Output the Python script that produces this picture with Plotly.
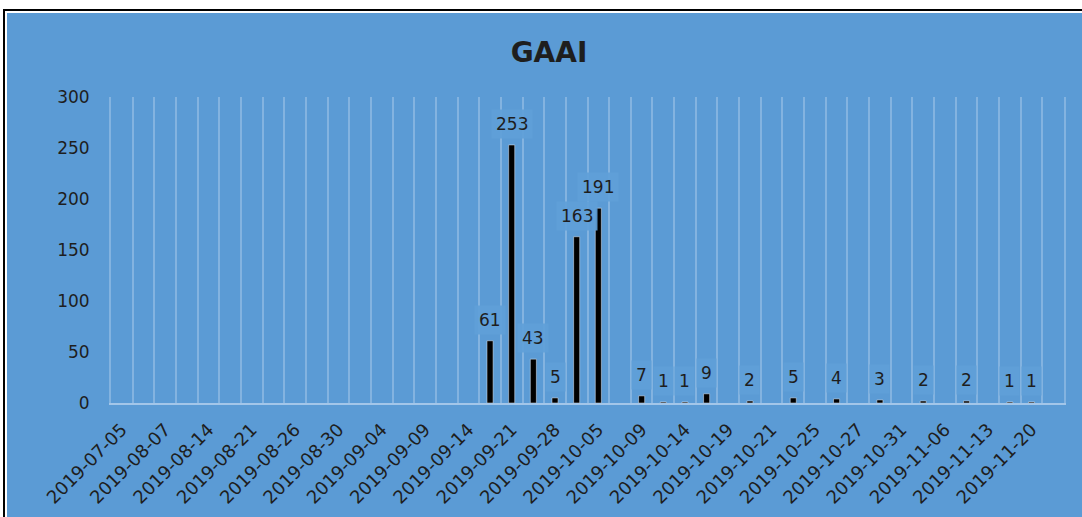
import plotly.graph_objects as go

# categories (only every other one is labelled on the axis)
dates = [
    '2019-07-05', '2019-07-24', '2019-08-07', '2019-08-10', '2019-08-14', '2019-08-17',
    '2019-08-21', '2019-08-23', '2019-08-26', '2019-08-28', '2019-08-30', '2019-09-02',
    '2019-09-04', '2019-09-06', '2019-09-09', '2019-09-12', '2019-09-14', '2019-09-18',
    '2019-09-21', '2019-09-25', '2019-09-28', '2019-10-02', '2019-10-05', '2019-10-07',
    '2019-10-09', '2019-10-11', '2019-10-14', '2019-10-16', '2019-10-19', '2019-10-20',
    '2019-10-21', '2019-10-23', '2019-10-25', '2019-10-26', '2019-10-27', '2019-10-29',
    '2019-10-31', '2019-11-03', '2019-11-06', '2019-11-10', '2019-11-13', '2019-11-16',
    '2019-11-20', '2019-11-23',
]
counts = [
    None, None, None, None, None, None, None, None, None, None, None, None,
    None, None, None, None, None, 61, 253, 43, 5, 163, 191, None,
    7, 1, 1, 9, None, 2, None, 5, None, 4, None, 3,
    None, 2, None, 2, None, 1, 1, None,
]
y_ticks = [0, 50, 100, 150, 200, 250, 300]

W, H = 1082, 517
L, R, T, B = 111, 18, 97, 114
BLUE = '#5B9BD5'
GRID = '#83B3E0'
TXT = '#1E1E1E'

def px_x(p):
    return (p - L) / (W - L - R)

def px_y(p):
    return (H - B - p) / (H - T - B)

idx = list(range(len(dates)))

fig = go.Figure()
fig.add_trace(go.Bar(x=idx, y=counts, marker_color='black', width=0.28, showlegend=False,
                     hoverinfo='skip'))

# data labels with a faint box behind them
for i, v in zip(idx, counts):
    if v is None:
        continue
    fig.add_annotation(x=i, y=v, text=str(v), showarrow=False, yshift=21,
                       font=dict(family='DejaVu Sans', size=17, color=TXT),
                       bgcolor='rgba(96,159,216,0.92)', borderpad=4)

# chart panel + thin black frame
fig.add_shape(type='rect', xref='paper', yref='paper', layer='below',
              x0=px_x(7), x1=px_x(1095), y0=px_y(530), y1=px_y(13),
              fillcolor=BLUE, line_width=0)
fig.add_shape(type='rect', xref='paper', yref='paper',
              x0=px_x(4), x1=px_x(1095), y0=px_y(530), y1=px_y(10),
              fillcolor='rgba(0,0,0,0)', line=dict(color='black', width=2))

fig.update_layout(
    width=W, height=H,
    margin=dict(l=L, r=R, t=T, b=B, autoexpand=False),
    paper_bgcolor='white', plot_bgcolor=BLUE,
    title=dict(text='GAAI', x=549 / W, xanchor='center', y=1 - 52 / H, yanchor='middle',
               font=dict(family='DejaVu Sans', size=28, color=TXT, weight='bold')),
    font=dict(family='DejaVu Sans', color=TXT),
    xaxis=dict(range=[-0.5, len(dates) - 0.5], tickmode='array',
               tickvals=idx[::2], ticktext=dates[::2], tickangle=-45,
               tickfont=dict(size=18, color=TXT), showgrid=False, zeroline=False,
               showline=True, linecolor='#A3C6E9', linewidth=2,
               ticks='outside', ticklen=7, tickcolor='rgba(0,0,0,0)',
               minor=dict(tick0=-0.5, dtick=1, showgrid=True, gridcolor=GRID, gridwidth=2),
               fixedrange=True),
    yaxis=dict(range=[0, 300], tickmode='array', tickvals=y_ticks, showgrid=False,
               zeroline=False, showline=True, mirror=True, linecolor=GRID, linewidth=2,
               tickfont=dict(size=17, color=TXT), ticklabelstandoff=16,
               fixedrange=True),
    bargap=0.72,
)

# page body has a default 8px margin; drop it so the figure sits at the window corner
fig.write_html("out.html", config={'displayModeBar': False},
               post_script="document.body.style.margin='0';")
